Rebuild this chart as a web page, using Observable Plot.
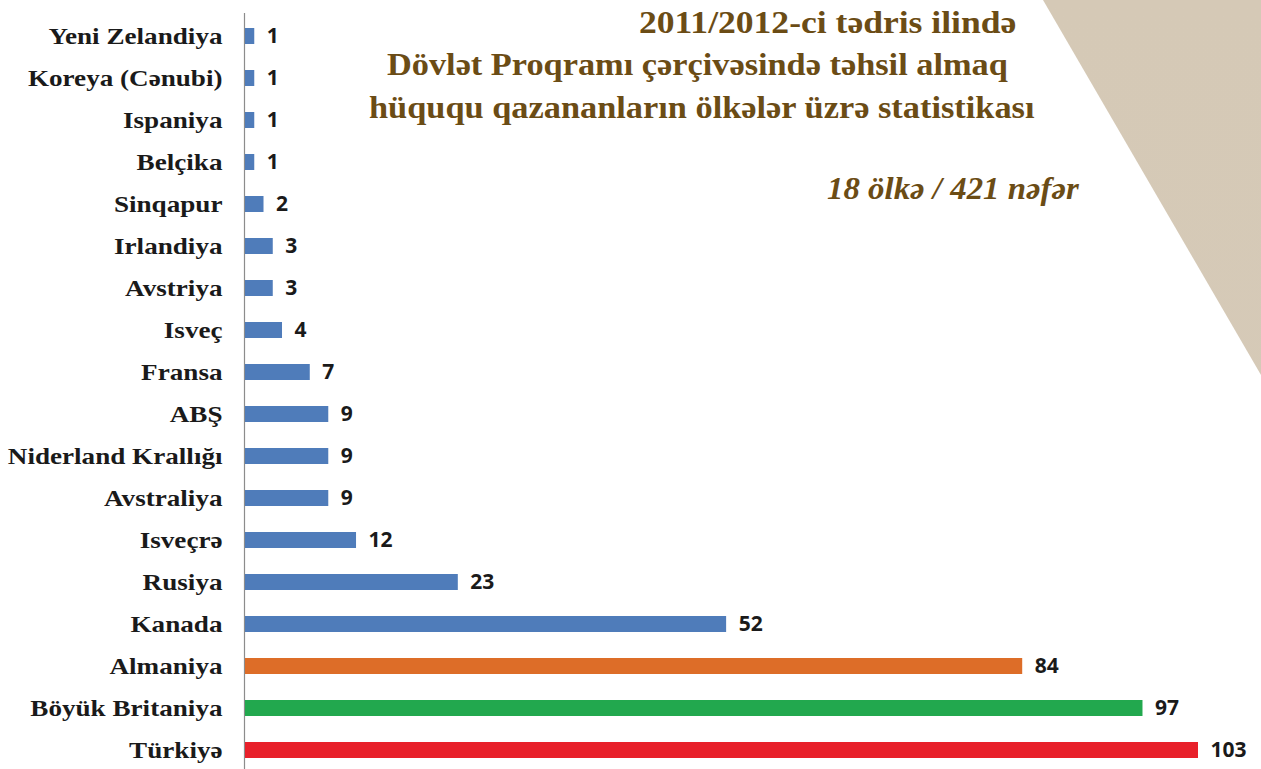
<!DOCTYPE html>
<html>
<head>
<meta charset="utf-8">
<script src="https://cdn.jsdelivr.net/npm/d3@7"></script>
<script src="https://cdn.jsdelivr.net/npm/@observablehq/plot@0.6"></script>
<style>
  html, body { margin: 0; padding: 0; background: #fff; }
  #wrap { position: relative; width: 1261px; height: 769px; overflow: hidden; }
  #tri { position: absolute; left: 0; top: 0; width: 1261px; height: 769px;
         background: linear-gradient(180deg, #d5c9b6 0%, #d6cab8 85%, #e6ded2 100%);
         clip-path: polygon(1043px 0, 1261px 0, 1261px 375px); }
  .t { position: absolute; font-family: "Liberation Serif", serif; font-weight: bold;
       color: #6b4c15; font-size: 31px; white-space: nowrap; line-height: 1; transform-origin: 0 0; }
  .s { position: absolute; font-family: "Liberation Serif", serif; font-weight: bold; font-style: italic;
       color: #6b4c15; font-size: 31px; white-space: nowrap; line-height: 1; transform-origin: 0 0; }
  #chart { position: absolute; left: 0; top: 0; }
</style>
</head>
<body>
<div id="wrap">
  <div id="tri"></div>
  <div id="chart"></div>
  <div class="t" id="t1" style="left:639px; top:7px; transform: scaleX(1.147);">2011/2012-ci tədris ilində</div>
  <div class="t" id="t2" style="left:387px; top:49px; transform: scaleX(1.107);">Dövlət Proqramı çərçivəsində təhsil almaq</div>
  <div class="t" id="t3" style="left:369px; top:92px; transform: scaleX(1.108);">hüququ qazananların ölkələr üzrə statistikası</div>
  <div class="s" id="s1" style="left:827px; top:173px; transform: scaleX(1.06);">18 ölkə / 421 nəfər</div>
</div>
<script>
const countries = ["Yeni Zelandiya","Koreya (Cənubi)","Ispaniya","Belçika","Sinqapur","Irlandiya","Avstriya","Isveç","Fransa","ABŞ","Niderland Krallığı","Avstraliya","Isveçrə","Rusiya","Kanada","Almaniya","Böyük Britaniya","Türkiyə"];
const values = [1,1,1,1,2,3,3,4,7,9,9,9,12,23,52,84,97,103];
const colors = ["#4f7cba","#4f7cba","#4f7cba","#4f7cba","#4f7cba","#4f7cba","#4f7cba","#4f7cba","#4f7cba","#4f7cba","#4f7cba","#4f7cba","#4f7cba","#4f7cba","#4f7cba","#dd6d28","#22a84e","#e8202a"];

const data = countries.map((c, i) => ({country: c, value: values[i], color: colors[i]}));

const chart = Plot.plot({
  width: 1261,
  height: 769,
  marginTop: 13,
  marginBottom: 0,
  marginLeft: 244,
  marginRight: 0,
  style: {background: "transparent", overflow: "visible"},
  x: {domain: [0, 103], range: [245, 1198], axis: null},
  y: {domain: countries, range: [13.9, 773], padding: 0, axis: null},
  marks: [
    Plot.ruleX([0], {x: d => d, stroke: "#8c8c8c", strokeWidth: 1.2, dx: -1}),
    Plot.barX(data, {x: "value", y: "country", fill: d => d.color, insetTop: 13, insetBottom: 13}),
    Plot.text(data, {x: 0, y: "country", text: "country", textAnchor: "end", dx: -23,
      fontFamily: "Liberation Serif", fontWeight: "bold", fontSize: 24, fill: "#1a1a1a",
      className: "country-label"}),
    Plot.text(data, {x: "value", y: "country", text: d => String(d.value), textAnchor: "start", dx: 12,
      fontFamily: "Open Sans", fontWeight: "bold", fontSize: 21, fill: "#1a1a1a"})
  ]
});
document.getElementById("chart").appendChild(chart);
// widen the serif labels to match the stretched lettering of the original
d3.select(chart).selectAll("g.country-label text").each(function() {
  const w = this.getComputedTextLength();
  this.setAttribute("textLength", (w * 1.13).toFixed(1));
  this.setAttribute("lengthAdjust", "spacingAndGlyphs");
});
</script>
</body>
</html>
